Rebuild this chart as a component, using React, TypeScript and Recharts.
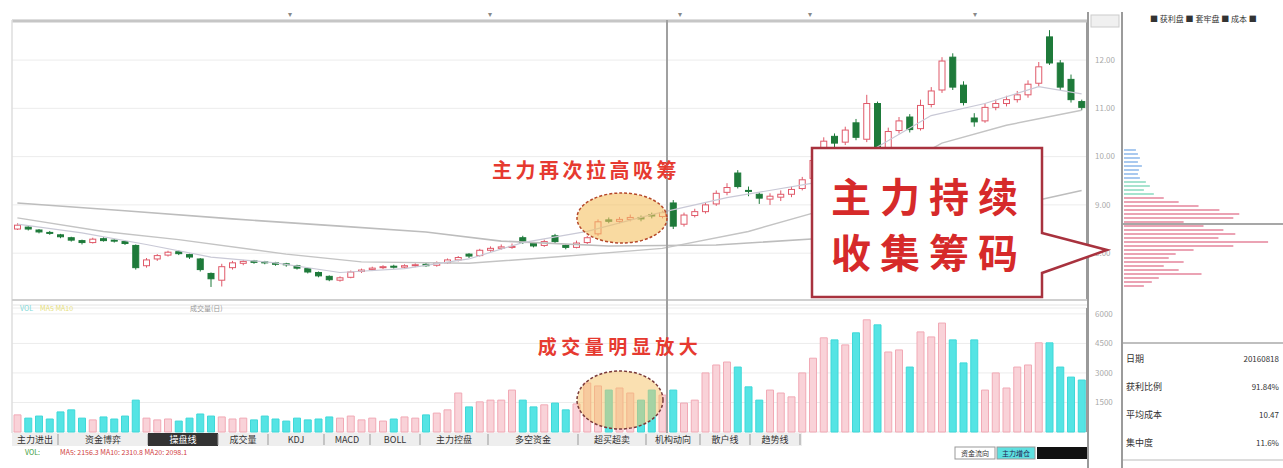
import React from 'react';
import { ComposedChart, BarChart, Bar, Line, XAxis, YAxis, CartesianGrid, Cell } from 'recharts';

const FONT = '"Noto Sans CJK SC", "Noto Sans", sans-serif';

// ---- candle data ----
const opens = [8.50,8.54,8.48,8.43,8.38,8.32,8.26,8.22,8.30,8.27, 8.24,8.16,7.74,7.88,7.96,8.03,7.97,7.88,7.58,7.44,
  7.70,7.79,7.84,7.82,7.80,7.78,7.74,7.68,7.60,7.52, 7.44,7.50,7.62,7.66,7.70,7.73,7.71,7.74,7.77,7.75,
  7.80,7.86,7.98,7.95,8.06,8.10,8.12,8.32,8.20,8.16, 8.36,8.16,8.12,8.22,8.40,8.69,8.66,8.70,8.74,8.80,
  8.76,9.04,8.60,8.78,8.86,9.02,9.26,9.66,9.30,9.22, 9.12,9.16,9.22,9.34,9.55,9.95,10.42,10.30,10.70,10.36,
  11.10,10.16,10.54,10.82,10.58,11.08,11.38,12.06,11.48,10.80, 10.74,11.02,11.10,11.18,11.28,11.52,12.48,11.94,11.60,11.14];
const closes = [8.58,8.50,8.44,8.41,8.34,8.27,8.22,8.29,8.26,8.25, 8.20,7.70,7.86,7.95,8.02,7.99,7.92,7.66,7.47,7.72,
  7.80,7.83,7.81,7.80,7.77,7.76,7.69,7.61,7.53,7.45, 7.49,7.61,7.65,7.69,7.72,7.71,7.74,7.76,7.74,7.80,
  7.86,7.91,7.94,8.06,8.10,8.13,8.14,8.22,8.15,8.24, 8.24,8.12,8.21,8.32,8.65,8.66,8.70,8.74,8.71,8.77,
  8.84,8.56,8.79,8.86,9.00,9.24,9.36,9.38,9.28,9.14, 9.18,9.22,9.32,9.52,9.92,10.32,10.28,10.55,10.40,11.10,
  10.14,10.52,10.74,10.56,11.06,11.36,11.98,11.44,11.12,10.72, 11.02,11.10,11.18,11.28,11.50,11.86,11.94,11.44,11.18,11.02];
const highs = [8.62,8.56,8.50,8.46,8.40,8.34,8.28,8.32,8.33,8.29, 8.26,8.18,7.90,7.98,8.05,8.06,7.99,7.90,7.60,7.78,
  7.84,7.86,7.86,7.84,7.82,7.80,7.76,7.70,7.62,7.54, 7.52,7.64,7.68,7.72,7.75,7.76,7.77,7.79,7.80,7.83,
  7.89,7.94,8.00,8.09,8.14,8.18,8.20,8.36,8.23,8.28, 8.40,8.18,8.26,8.36,8.70,8.74,8.75,8.80,8.78,8.84,
  8.88,9.10,8.84,8.92,9.06,9.30,9.45,9.72,9.38,9.26, 9.24,9.30,9.38,9.58,10.00,10.40,10.48,10.62,10.78,11.28,
  11.14,10.60,10.82,10.88,11.18,11.44,12.06,12.14,11.56,10.90, 11.10,11.18,11.26,11.36,11.58,11.96,12.62,12.00,11.70,11.18];
const lows = [8.48,8.47,8.41,8.38,8.31,8.24,8.18,8.20,8.24,8.22, 8.17,7.66,7.70,7.84,7.93,7.96,7.88,7.62,7.30,7.31,
  7.66,7.75,7.78,7.77,7.74,7.72,7.66,7.58,7.50,7.42, 7.41,7.48,7.59,7.63,7.67,7.68,7.68,7.71,7.72,7.72,
  7.78,7.83,7.90,7.93,8.03,8.07,8.09,8.19,8.12,8.13, 8.20,8.08,8.10,8.19,8.36,8.62,8.62,8.66,8.66,8.72,
  8.72,8.50,8.55,8.74,8.82,8.98,9.20,9.34,9.18,9.02, 9.00,9.08,9.16,9.30,9.50,9.90,10.16,10.24,10.34,10.30,
  10.00,10.10,10.48,10.50,10.54,11.02,11.32,11.38,11.06,10.62, 10.70,10.96,11.04,11.12,11.22,11.46,11.90,11.38,11.12,10.96];
const volumes = [0.58,0.47,0.54,0.44,0.68,0.75,0.47,0.41,0.51,0.44, 0.54,1.08,0.47,0.41,0.44,0.37,0.47,0.61,0.54,0.51,
  0.44,0.47,0.41,0.54,0.44,0.37,0.47,0.41,0.44,0.51, 0.47,0.54,0.41,0.47,0.37,0.44,0.51,0.47,0.58,0.64,
  0.75,1.32,0.85,1.02,1.08,1.08,1.42,1.08,0.85,0.92, 0.98,0.75,0.95,1.66,1.56,1.42,1.49,1.32,1.08,1.42,
  1.25,1.42,0.98,1.08,2.0,2.27,2.37,2.2,1.53,1.08, 1.42,1.32,1.19,2.0,2.5,3.19,3.12,2.95,3.36,3.8,
  3.63,2.71,2.78,2.2,3.39,3.22,3.69,3.12,2.34,3.12, 1.42,2.0,1.49,2.2,2.27,3.02,3.02,2.2,1.86,1.76];

const maLongIdx = [0,10,20,30,38,45,55,65,75,85,95,99];
const maLongVal = [9.04,8.88,8.71,8.56,8.44,8.25,8.15,8.17,8.31,8.65,9.10,9.30];
const maMidIdx = [0,8,15,25,32,42,50,60,68,74,80,86,92,99];
const maMidVal = [8.73,8.45,8.28,7.98,7.82,7.79,7.92,8.10,8.45,8.83,9.55,10.28,10.65,10.96];
const maShortIdx = [0,6,12,18,24,30,36,42,47,53,59,66,74,80,85,90,95,99];
const maShortVal = [8.60,8.42,8.18,7.92,7.80,7.60,7.68,7.88,8.22,8.45,8.80,9.15,9.45,10.20,10.85,11.10,11.45,11.30];

const priceTicks = [8, 9, 10, 11, 12];
const volTicks = [1, 2, 3, 4];
const volTickLabels = ['1500', '3000', '4500', '6000'];

// chip distribution rows (top = high price)
const chipW = [12,14,16,14,18,15,14,16,22,26,20,30,40,55,75,96,116,110,60,80,100,112,95,145,110,70,52,45,60,40,55,78,35,28,20];
const chipKind = ['b','b','b','b','b','b','b','b','t','t','t','t','p','p','p','p','p','p','p','p','p','p','p','p','p','p','p','p','p','p','p','p','p','p','p'];

const tabLabels = ['主力进出','资金博弈','操盘线','成交量','KDJ','MACD','BOLL','主力控盘','多空资金','超买超卖','机构动向','散户线','趋势线'];
const tabEdges = [12,58,148,218,268,324,370,420,488,578,646,700,750,800];

const infoLabels = ['日期','获利比例','平均成本','集中度'];
const infoValues = ['20160818','91.84%','10.47','11.6%'];

const candleData = opens.map((o, i) => {
  const row: any = { i, open: o, close: closes[i], high: highs[i], low: lows[i], hl: [lows[i], highs[i]], vol: volumes[i] };
  return row;
});
maLongIdx.forEach((ix, k) => { candleData[ix].maLong = maLongVal[k]; });
maMidIdx.forEach((ix, k) => { candleData[ix].maMid = maMidVal[k]; });
maShortIdx.forEach((ix, k) => { candleData[ix].maShort = maShortVal[k]; });

const chipData = chipW.map((w, k) => ({ k, w, kind: chipKind[k] }));
const chipColor: Record<string, string> = { b: '#a9c9ef', t: '#a6e3cf', p: '#eba3b4' };

const UP = '#e05a6a';
const DOWN = '#1e7a3a';

const Candle = (props: any) => {
  const { x, y, width, height, payload } = props;
  if (!payload) return null;
  const { open, close, high, low } = payload;
  const top = Math.min(y, y + height);
  const h = Math.abs(height);
  const ratio = high - low > 0 ? h / (high - low) : 0;
  const up = close >= open;
  const bTop = top + (high - Math.max(open, close)) * ratio;
  const bBot = top + (high - Math.min(open, close)) * ratio;
  const cx = x + width / 2;
  const c = up ? UP : DOWN;
  return (
    <g>
      <line x1={cx} x2={cx} y1={top} y2={top + h} stroke={c} strokeWidth={1} />
      <rect x={x + 0.5} y={bTop} width={width - 1} height={Math.max(1, bBot - bTop)} fill={up ? '#ffffff' : c} stroke={c} strokeWidth={1} />
    </g>
  );
};

export default function App() {
  return (
    <div style={{ position: 'absolute', left: 0, top: 0, width: 1283, height: 468, background: '#fff', overflow: 'hidden', fontFamily: FONT }}>
      {/* price panel */}
      <div style={{ position: 'absolute', left: 0, top: 0 }}>
        <ComposedChart width={1122} height={305} data={candleData} margin={{ top: 20, right: 0, left: 12, bottom: 5 }} barSize={7}>
          <CartesianGrid horizontal vertical={false} stroke="#ececec" />
          <XAxis dataKey="i" type="category" hide />
          <YAxis orientation="right" width={35} domain={[7.03, 12.83]} ticks={priceTicks} allowDataOverflow
            tick={{ fontSize: 8, fill: '#aaa', fontFamily: FONT }} tickLine={false}
            axisLine={{ stroke: '#9a9a9a', strokeWidth: 2 }} tickFormatter={(v: number) => v.toFixed(2)} />
          <Line dataKey="maLong" stroke="#bdbdbd" strokeWidth={1.6} dot={false} connectNulls isAnimationActive={false} />
          <Line dataKey="maMid" stroke="#c4c4c4" strokeWidth={1.4} dot={false} connectNulls isAnimationActive={false} />
          <Line dataKey="maShort" stroke="#c9c9d6" strokeWidth={1.2} dot={false} connectNulls isAnimationActive={false} />
          <Bar dataKey="hl" shape={<Candle />} isAnimationActive={false} />
        </ComposedChart>
      </div>
      {/* volume panel */}
      <div style={{ position: 'absolute', left: 0, top: 300 }}>
        <ComposedChart width={1122} height={135} data={candleData} margin={{ top: 8, right: 0, left: 12, bottom: 3 }} barSize={7}>
          <CartesianGrid horizontal vertical={false} stroke="#ececec" />
          <XAxis dataKey="i" type="category" hide />
          <YAxis orientation="right" width={35} domain={[0, 4.2]} ticks={volTicks}
            tick={{ fontSize: 8, fill: '#aaa', fontFamily: FONT }} tickLine={false}
            axisLine={{ stroke: '#9a9a9a', strokeWidth: 2 }} tickFormatter={(v: number) => volTickLabels[volTicks.indexOf(v)] || ''} />
          <Bar dataKey="vol" isAnimationActive={false}>
            {candleData.map((d: any, k: number) => (
              <Cell key={k} fill={d.close >= d.open ? '#f9d2d8' : '#55e4e4'} stroke={d.close >= d.open ? '#f1a9b5' : '#3fd8d8'} strokeWidth={1} />
            ))}
          </Bar>
        </ComposedChart>
      </div>
      {/* chip distribution */}
      <div style={{ position: 'absolute', left: 1124, top: 148 }}>
        <BarChart width={159} height={140} data={chipData} layout="vertical" margin={{ top: 0, right: 0, left: 0, bottom: 0 }} barCategoryGap={1}>
          <XAxis type="number" domain={[0, 160]} hide />
          <YAxis type="category" dataKey="k" hide />
          <Bar dataKey="w" isAnimationActive={false}>
            {chipData.map((d, k) => <Cell key={k} fill={chipColor[d.kind]} />)}
          </Bar>
        </BarChart>
      </div>
      {/* overlay: frame, annotations, panels */}
      <svg width={1283} height={468} style={{ position: 'absolute', left: 0, top: 0, pointerEvents: 'none' }} fontFamily={FONT}>
        {/* frame */}
        <line x1={12} x2={1088} y1={21} y2={21} stroke="#c6c6c6" strokeWidth={3} />
        <line x1={12} x2={12} y1={20} y2={433} stroke="#dedede" strokeWidth={1.5} />
        <line x1={12} x2={1088} y1={300} y2={300} stroke="#cfcfcf" strokeWidth={2} />
        <line x1={12} x2={1088} y1={305} y2={305} stroke="#e4e4e4" strokeWidth={1} />
        <line x1={667} x2={667} y1={20} y2={433} stroke="#a0a0a0" strokeWidth={2} />
        <line x1={1088} x2={1088} y1={12} y2={468} stroke="#9a9a9a" strokeWidth={2} />
        <line x1={1122} x2={1122} y1={12} y2={468} stroke="#7a7a7a" strokeWidth={1.5} />
        <rect x={1091} y={15} width={28} height={12} fill="#f0f0f0" stroke="#ccc" />
        {[290, 490, 680, 810, 975].map((x) => (
          <text key={x} x={x} y={17} fontSize={8} fill="#888" textAnchor="middle">▾</text>
        ))}
        {/* volume header texts */}
        <text x={20} y={311} fontSize={7} fill="#7fd9d9">VOL</text>
        <text x={40} y={311} fontSize={7} fill="#e6e07a">MA5 MA10</text>
        <text x={190} y={311} fontSize={7} fill="#999">成交量(日)</text>
        {/* tab bar */}
        <rect x={12} y={433} width={790} height={13} fill="#eeeeee" />
        {tabLabels.map((t, k) => {
          const x0 = tabEdges[k];
          const x1 = tabEdges[k + 1];
          const dark = k === 2;
          return (
            <g key={t}>
              {dark && <rect x={x0} y={433} width={x1 - x0} height={13} fill="#333" />}
              <text x={(x0 + x1) / 2} y={443} fontSize={9} fill={dark ? '#fff' : '#333'} textAnchor="middle">{t}</text>
              <line x1={x1} x2={x1} y1={434} y2={445} stroke="#999" />
            </g>
          );
        })}
        <text x={25} y={455} fontSize={7} fill="#3a9a3a">VOL:</text>
        <text x={60} y={455} fontSize={7} fill="#d04040">MA5: 2156.3  MA10: 2310.8  MA20: 2098.1</text>
        <rect x={955} y={447} width={40} height={12} fill="#fff" stroke="#999" />
        <text x={975} y={456} fontSize={7} fill="#333" textAnchor="middle">资金流向</text>
        <rect x={997} y={447} width={38} height={12} fill="#5ee0e0" stroke="#999" />
        <text x={1016} y={456} fontSize={7} fill="#225" textAnchor="middle">主力增仓</text>
        <rect x={1037} y={447} width={50} height={12} fill="#111" />

        {/* annotation 1 */}
        <ellipse cx={622} cy={218} rx={45} ry={25} fill="#f5c163" fillOpacity={0.6} stroke="#b5482a" strokeWidth={1.5} strokeDasharray="3 2" />
        <text x={586} y={178} fontSize={20} fontWeight={700} fill="#e63a30" textAnchor="middle" letterSpacing={3.5}>主力再次拉高吸筹</text>
        {/* annotation 2 */}
        <ellipse cx={620} cy={400} rx={43} ry={29} fill="#f5c163" fillOpacity={0.5} stroke="#7a3a3a" strokeWidth={1.5} strokeDasharray="3 2" />
        <text x={620} y={354} fontSize={19} fontWeight={700} fill="#e63a30" textAnchor="middle" letterSpacing={4.5}>成交量明显放大</text>
        {/* callout */}
        <path d="M812,148 L1042,148 L1042,233 L1107,250 L1042,273 L1042,297 L812,297 Z" fill="#fff" stroke="#a8323e" strokeWidth={2.5} />
        <text x={929} y={212} fontSize={40} fontWeight={700} fill="#d62a2a" textAnchor="middle" letterSpacing={9}>主力持续</text>
        <text x={929} y={268} fontSize={40} fontWeight={700} fill="#d62a2a" textAnchor="middle" letterSpacing={9}>收集筹码</text>

        {/* right panel */}
        <text x={1150} y={22} fontSize={8} fill="#333">■ 获利盘 ■ 套牢盘 ■ 成本 ■</text>
        <line x1={1123} x2={1283} y1={224} y2={224} stroke="#8a8a8a" strokeWidth={1.5} />
        <line x1={1123} x2={1283} y1={343} y2={343} stroke="#aaa" strokeWidth={1.5} />
        <line x1={1123} x2={1283} y1={460} y2={460} stroke="#bbb" strokeWidth={1} />
        {infoLabels.map((t, k) => (
          <g key={t}>
            <text x={1126} y={362 + k * 28} fontSize={9} fill="#333">{t}</text>
            <text x={1279} y={362 + k * 28} fontSize={8} fill="#333" textAnchor="end">{infoValues[k]}</text>
          </g>
        ))}
      </svg>
    </div>
  );
}
